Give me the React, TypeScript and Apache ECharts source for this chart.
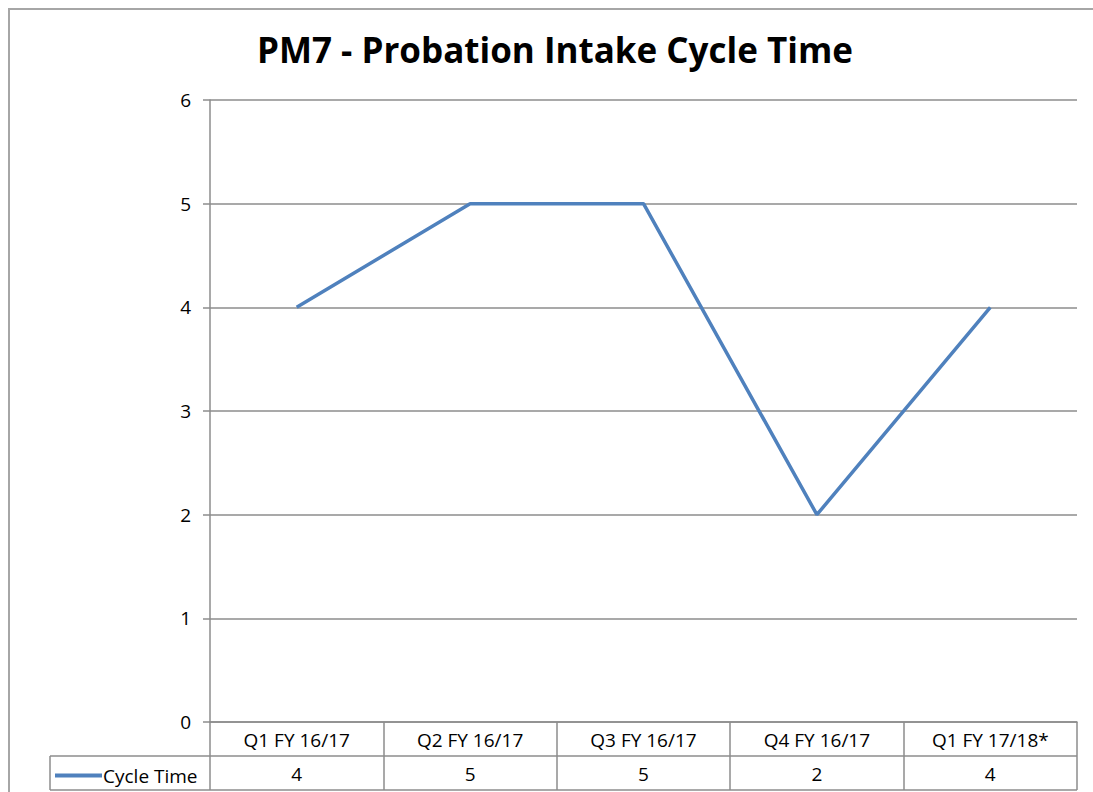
import React, { useEffect, useRef } from "react";
import * as echarts from "echarts";

const categories = ["Q1 FY 16/17", "Q2 FY 16/17", "Q3 FY 16/17", "Q4 FY 16/17", "Q1 FY 17/18*"];
const cycleTime = [4, 5, 5, 2, 4];
const seriesName = "Cycle Time";
const titleText = "PM7 - Probation Intake Cycle Time";

const FONT = "'Open Sans', 'Liberation Sans', sans-serif";
const GRAY = "#8c8c8c";

export default function App() {
  const ref = useRef<HTMLDivElement>(null);
  useEffect(() => {
    if (!ref.current) return;
    const chart = echarts.init(ref.current, null, { renderer: "svg" });
    const left = 210, top = 100, right = 1077, bottom = 722;
    const rowH = 34;
    chart.setOption({
      animation: false,
      backgroundColor: "#ffffff",
      title: {
        text: titleText,
        left: 550,
        top: 27,
        textAlign: "center",
        textStyle: { fontFamily: FONT, fontWeight: "bold", fontSize: 35, color: "#000" },
      },
      grid: { left, top, width: right - left, height: bottom - top, containLabel: false },
      legend: {
        left: 50,
        top: bottom + rowH + 5,
        icon: "rect",
        itemWidth: 47,
        itemHeight: 4,
        itemGap: 2,
        textStyle: { fontFamily: FONT, fontSize: 19, color: "#000", padding: [0, 0, 0, -4] },
        data: [seriesName],
      },
      xAxis: [
        {
          type: "category",
          data: categories,
          boundaryGap: true,
          position: "bottom",
          axisLine: { show: true, lineStyle: { color: GRAY, width: 1.5 } },
          axisTick: { show: true, length: rowH * 2, interval: 0, lineStyle: { color: GRAY, width: 1.5 } },
          axisLabel: { fontFamily: FONT, fontSize: 19, color: "#000", margin: 8, interval: 0 },
          splitLine: { show: false },
        },
        {
          type: "category",
          data: cycleTime.map(String),
          boundaryGap: true,
          position: "bottom",
          offset: rowH,
          axisLine: { show: false },
          axisTick: { show: false },
          axisLabel: { fontFamily: FONT, fontSize: 19, color: "#000", margin: 8, interval: 0 },
        },
      ],
      yAxis: {
        type: "value",
        min: 0,
        max: 6,
        interval: 1,
        axisLine: { show: true, lineStyle: { color: GRAY, width: 1.5 } },
        axisTick: { show: true, length: 7, lineStyle: { color: GRAY, width: 1.5 } },
        axisLabel: { fontFamily: FONT, fontSize: 19, color: "#000", margin: 19 },
        splitLine: { show: true, lineStyle: { color: GRAY, width: 1.5 } },
      },
      series: [
        {
          name: seriesName,
          type: "line",
          data: cycleTime,
          showSymbol: false,
          symbol: "none",
          color: "#4F81BD",
          lineStyle: { color: "#4F81BD", width: 3.5 },
        },
      ],
      graphic: [
        {
          type: "rect",
          shape: { x: 9, y: 9, width: 1200, height: 900 },
          style: { fill: "none", stroke: "#a6a6a6", lineWidth: 2 },
          silent: true,
        },
        {
          type: "line",
          shape: { x1: 50, y1: bottom + rowH, x2: right, y2: bottom + rowH },
          style: { stroke: GRAY, lineWidth: 1.5 },
        },
        {
          type: "line",
          shape: { x1: 50, y1: bottom + rowH * 2, x2: right, y2: bottom + rowH * 2 },
          style: { stroke: GRAY, lineWidth: 1.5 },
        },
        {
          type: "line",
          shape: { x1: 50, y1: bottom + rowH, x2: 50, y2: bottom + rowH * 2 },
          style: { stroke: GRAY, lineWidth: 1.5 },
        },
      ],
    });
    return () => chart.dispose();
  }, []);
  return (
    <div
      ref={ref}
      style={{ position: "fixed", left: 0, top: 0, width: 1093, height: 792, background: "#fff" }}
    />
  );
}
